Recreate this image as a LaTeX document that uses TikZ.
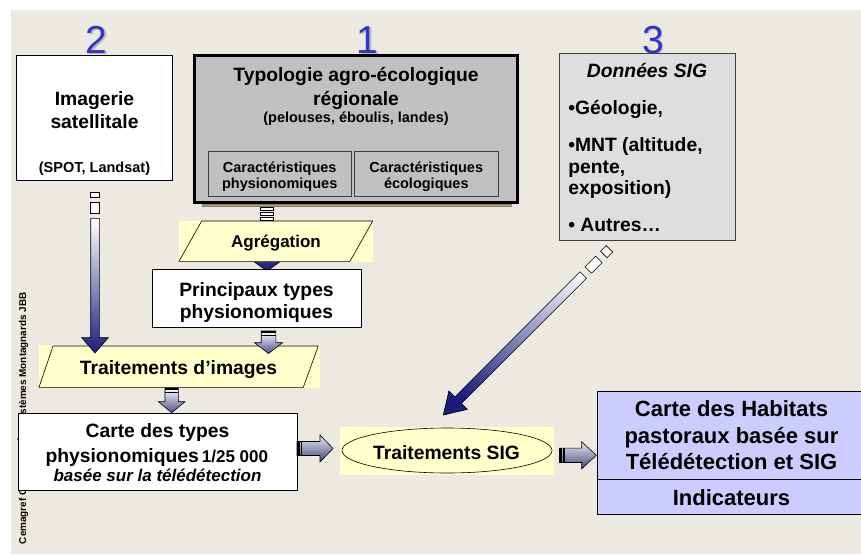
\documentclass[tikz,border=0pt]{standalone}
\usepackage{fontspec}
\setmainfont{Liberation Sans}
\usetikzlibrary{shapes.geometric}
\definecolor{bgbeige}{HTML}{ECE9E0}
\definecolor{numblue}{HTML}{3333CC}
\definecolor{yel}{HTML}{FFFFCC}
\definecolor{typgray}{HTML}{C0C0C0}
\definecolor{siggray}{HTML}{DEDEDE}
\definecolor{habblue}{HTML}{CCCCFF}
\definecolor{navyarr}{HTML}{1C1C80}
\definecolor{slatearr}{HTML}{4E4E8C}
\definecolor{stripc}{HTML}{857D5C}
\definecolor{edgegray}{HTML}{404040}
\newcommand\myfont[1]{\fontsize{#1}{#1}\selectfont\bfseries}
\newcommand\dnArrow[7]{\shade[#7] ({#1-#5},#2) -- ({#1+#5},#2) -- ({#1+#5},#3) -- ({#1+#6},#3) -- (#1,#4) -- ({#1-#6},#3) -- ({#1-#5},#3) -- cycle;}
\newcommand\rtArrow[7]{\shade[#7] (#2,{#1-#5}) -- (#3,{#1-#5}) -- (#3,{#1-#6}) -- (#4,#1) -- (#3,{#1+#6}) -- (#3,{#1+#5}) -- (#2,{#1+#5}) -- cycle;}
\newcommand\diagArrowPath{(443.3,415) -- (467.34,409.34) -- (461.40,403.40) -- (586.56,278.25) -- (580.05,271.74) -- (454.90,396.90) -- (448.96,390.96) -- cycle}
\begin{document}
\begin{tikzpicture}[x=1pt,y=-1pt,
  every node/.style={inner sep=0pt, outer sep=0pt},
  lbl/.style={anchor=base, font=\myfont{19.3}},
  lbll/.style={anchor=base west, font=\myfont{19.3}},
  num/.style={anchor=base, font=\fontsize{39}{39}\selectfont, text=numblue},
  numshadow/.style={anchor=base, font=\fontsize{39}{39}\selectfont, text=gray!55},
  plainbox/.style={draw=black, fill=white, line width=0.9pt, anchor=north west},
  para/.style={draw=black, line width=0.6pt},
  dashbox/.style={draw=black, fill=white, line width=0.6pt},
  navyshade/.style={draw=black, line width=0.6pt, top color=white, bottom color=navyarr},
  slateshade/.style={draw=black, line width=0.6pt, top color=white, bottom color=slatearr},
  hshade/.style={draw=black, line width=0.6pt, top color=white!88!slatearr, bottom color=slatearr!90!black}]
\useasboundingbox (0,0) rectangle (861,554);
\clip (0,0) rectangle (861,554);
\fill[white] (0,0) rectangle (861,554);
\fill[bgbeige] (11,10) rectangle (861,554);

% credit text (partly hidden)
\node[rotate=90, anchor=base west, font=\fontsize{9.9}{9.9}\selectfont\bfseries] (credit) at (26,544) {Cemagref Grenoble - Écosystèmes Montagnards JBB};

% numbers
\node[numshadow] (n2s) at (98,54.5) {2};
\node[num] (n2) at (96.5,53) {2};
\node[numshadow] (n1s) at (369,54.5) {1};
\node[num] (n1) at (367.5,53) {1};
\node[numshadow] (n3s) at (654.5,54.5) {3};
\node[num] (n3) at (653,53) {3};

% box 2 : imagerie
\node[plainbox, minimum width=156, minimum height=124.5] (img) at (16.2,55.7) {};
\node[lbl] (timg1) at (94.5,105) {Imagerie};
\node[lbl] (timg2) at (94.5,128) {satellitale};
\node[lbl, font=\myfont{14.5}] (timg3) at (94.5,172) {(SPOT, Landsat)};

% box 1 : typologie
\fill[stripc] (201.7,198) rectangle (511.7,207);
\fill[stripc!70!white] (201.7,205) rectangle (511.7,206);
\node[draw=black, fill=typgray, line width=3pt, anchor=north west, minimum width=323.3, minimum height=146.7] (typ) at (194.2,55.8) {};
\node[lbl] (ttyp1) at (356,81) {Typologie agro-écologique};
\node[lbl] (ttyp2) at (356,105) {régionale};
\node[lbl, font=\myfont{14.5}] (ttyp3) at (356,122.7) {(pelouses, éboulis, landes)};
\node[draw=edgegray, fill=typgray, line width=0.8pt, anchor=north west, minimum width=142.7, minimum height=45] (cphys) at (208.3,151.7) {};
\node[draw=edgegray, fill=typgray, line width=0.8pt, anchor=north west, minimum width=144.7, minimum height=45] (ceco) at (354,151.7) {};
\node[lbl, font=\myfont{14.5}] (tcp1) at (279.7,172) {Caractéristiques};
\node[lbl, font=\myfont{14.5}] (tcp2) at (279.7,188) {physionomiques};
\node[lbl, font=\myfont{14.5}] (tce1) at (426.3,172) {Caractéristiques};
\node[lbl, font=\myfont{14.5}] (tce2) at (426.3,188) {écologiques};

% box 3 : donnees SIG
\node[draw=edgegray, fill=siggray, line width=0.9pt, anchor=north west, minimum width=176, minimum height=186.7] (sig) at (559.3,53.3) {};
\node[lbl, font=\myfont{19.3}\itshape] (tsig0) at (647,77.7) {Données SIG};
\node[lbll] (tsig1) at (568.3,114.3) {•Géologie,};
\node[lbll] (tsig2) at (568.3,151.7) {•MNT (altitude,};
\node[lbll] (tsig3) at (568.3,173) {pente,};
\node[lbll] (tsig4) at (568.3,194.3) {exposition)};
\node[lbll] (tsig5) at (568.3,231) {• Autres…};

% arrow from typologie (behind Agregation)
\draw[dashbox] (260.7,207.3) rectangle (273.3,210.7);
\draw[dashbox] (260.7,212.3) rectangle (273.3,215.7);
\draw[dashbox] (260.7,217.3) rectangle (273.3,220.7);
\dnArrow{267}{221}{261}{271}{6.3}{14}{draw=black, line width=0.6pt, top color=navyarr!60!white, bottom color=navyarr}

% Agregation
\fill[yel] (179,220.7) rectangle (373.3,261.7);
\draw[para] (179,261.3) -- (201.7,221) -- (372.7,221) -- (350,261.3) -- cycle;
\node[lbl, font=\myfont{17}] (tagr) at (276,247.3) {Agrégation};

% Principaux types
\node[plainbox, minimum width=208.7, minimum height=58] (princ) at (152.3,269.3) {};
\node[lbl] (tpr1) at (256.5,296.7) {Principaux types};
\node[lbl] (tpr2) at (256.5,318.3) {physionomiques};

% Traitements d'images
\fill[yel] (39,345) rectangle (320,388);
\draw[para] (39,387.3) -- (53,346) -- (318.3,346) -- (303.3,387.3) -- cycle;
\node[lbl] (ttri) at (178.5,374.3) {Traitements d’images};

% Carte des types
\node[plainbox, minimum width=278.7, minimum height=77] (carte) at (18.3,413) {};
\node[lbl] (tct1) at (157.5,437.3) {Carte des types};
\node[lbl] (tct2) at (156.8,462.3) {physionomiques\hspace{3pt}{\myfont{17}1/25 000}};
\node[lbl, font=\myfont{17}\itshape] (tct3) at (157.5,481) {basée sur la télédétection};

% Traitements SIG
\fill[yel] (340,427) rectangle (554,475);
\node[draw=black, ellipse, line width=0.6pt, minimum width=210, minimum height=45] (tsig) at (447,450.5) {};
\node[lbl] (ttsig) at (446.5,459.3) {Traitements SIG};

% Carte des habitats
\node[draw=black, fill=habblue, line width=0.9pt, anchor=north west, minimum width=272, minimum height=123] (hab) at (597,391) {};
\draw[line width=0.9pt] (597,479) -- (869,479);
\node[lbl, font=\myfont{22}] (th1) at (731.5,416.7) {Carte des Habitats};
\node[lbl, font=\myfont{22}] (th2) at (731.5,443.3) {pastoraux basée sur};
\node[lbl, font=\myfont{22}] (th3) at (731.5,469.3) {Télédétection et SIG};
\node[lbl, font=\myfont{22}] (th4) at (731.5,505) {Indicateurs};

% arrow A : imagerie -> traitements d'images
\draw[dashbox] (90.7,192.3) rectangle (99.3,197.7);
\draw[dashbox] (90.7,202.3) rectangle (99.3,213.3);
\dnArrow{95}{218.3}{337.7}{353}{4.3}{13.3}{navyshade}

% arrow C : principaux -> traitements d'images
\dnArrow{268.5}{331}{342.7}{353.5}{7.3}{14}{slateshade}
\draw[line width=1.6pt] (261.2,332) -- (275.8,332);
\draw[line width=0.6pt] (261.2,334.8) -- (275.8,334.8);

% arrow D : traitements d'images -> carte
\dnArrow{171.7}{388}{401.7}{412.7}{6.7}{13.3}{slateshade}
\draw[line width=1.6pt] (165,389) -- (178.4,389);
\draw[line width=0.6pt] (165,391.8) -- (178.4,391.8);

% arrow E : carte -> traitements SIG
\rtArrow{448.5}{297}{320}{333}{7}{13.5}{hshade}
\fill[black] (297,441.5) rectangle (299.6,455.5);
\fill[black] (300.8,441.5) rectangle (302.4,455.5);

% arrow F : traitements SIG -> habitats
\rtArrow{455.3}{559.3}{581.7}{596.3}{7.2}{13.5}{hshade}
\fill[black] (559.3,448.1) rectangle (561.9,462.5);
\fill[black] (563.1,448.1) rectangle (564.7,462.5);

% arrow G : donnees SIG -> traitements SIG (diagonal, banded gradient)
\draw[dashbox] (607.06,257.74) -- (612.72,252.08) -- (606.22,245.58) -- (600.56,251.24) -- cycle;
\draw[dashbox] (591.51,273.30) -- (602.11,262.69) -- (595.61,256.19) -- (585.00,266.79) -- cycle;
\begin{scope}
  \clip \diagArrowPath;
  \foreach \i in {0,...,66} {
    \pgfmathsetmacro\aa{\i*3-1}
    \pgfmathsetmacro\bb{\aa+4}
    \pgfmathtruncatemacro\pp{min(100,max(0,(200-\aa)/1.75))}
    \fill[navyarr!\pp!white] ({443.3+0.7071*(\aa+20)},{415+0.7071*(20-\aa)}) -- ({443.3+0.7071*(\bb+20)},{415+0.7071*(20-\bb)}) -- ({443.3+0.7071*(\bb-20)},{415+0.7071*(-20-\bb)}) -- ({443.3+0.7071*(\aa-20)},{415+0.7071*(-20-\aa)}) -- cycle;
  }
\end{scope}
\draw[line width=0.6pt, line join=miter] \diagArrowPath;
\end{tikzpicture}
\end{document}
